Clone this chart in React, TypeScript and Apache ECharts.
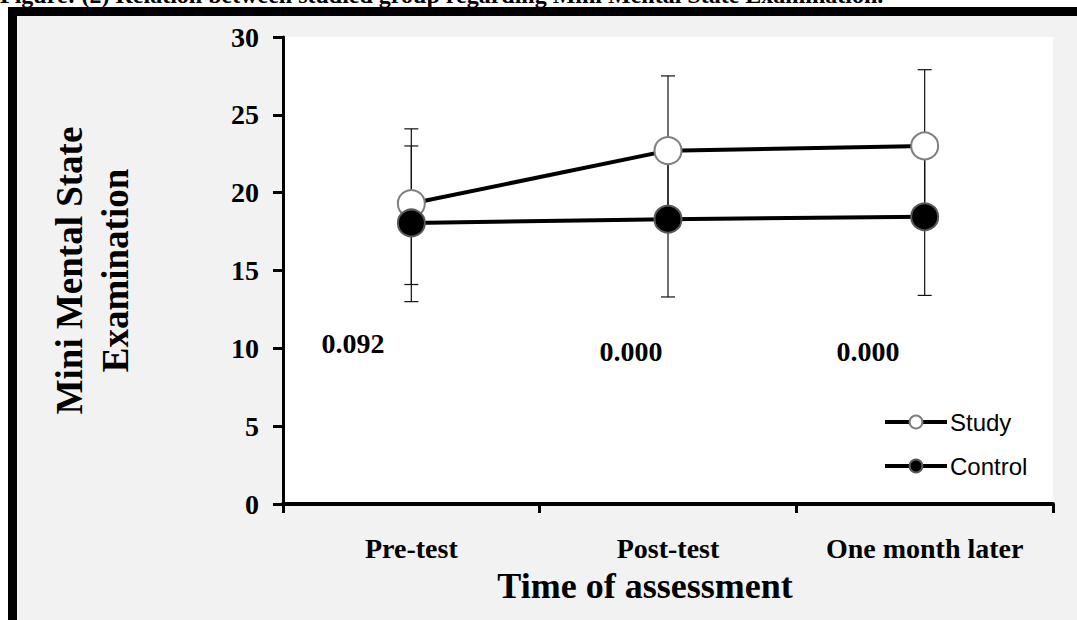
import React, { useEffect, useRef } from "react";
import * as echarts from "echarts";

const categories = ["Pre-test", "Post-test", "One month later"];
const studyMean = [19.3, 22.7, 23.0];
const studyLow = [14.1, 17.8, 18.1];
const studyHigh = [24.1, 27.5, 27.9];
const controlMean = [18.05, 18.3, 18.45];
const controlLow = [13.0, 13.3, 13.4];
const controlHigh = [23.0, 23.3, 23.5];
const pValues = ["0.092", "0.000", "0.000"];
const pValuePos = [
  [353, 343],
  [631, 351],
  [868, 351],
];
const yMin = 0;
const yMax = 30;
const yInterval = 5;

const SERIF = "'Liberation Serif', 'Times New Roman', serif";
const SANS = "'Liberation Sans', Arial, sans-serif";

function errorSeries(name: string, low: number[], high: number[]) {
  return {
    name: name + " SD",
    type: "custom",
    z: 1,
    silent: true,
    data: categories.map((_, i) => [i, low[i], high[i]]),
    renderItem: (params: any, api: any) => {
      const x = api.value(0);
      const lo = api.coord([x, api.value(1)]);
      const hi = api.coord([x, api.value(2)]);
      const cap = 7;
      const style = { stroke: "#111", lineWidth: 1.2 };
      return {
        type: "group",
        children: [
          { type: "line", shape: { x1: lo[0], y1: lo[1], x2: hi[0], y2: hi[1] }, style },
          { type: "line", shape: { x1: lo[0] - cap, y1: lo[1], x2: lo[0] + cap, y2: lo[1] }, style },
          { type: "line", shape: { x1: hi[0] - cap, y1: hi[1], x2: hi[0] + cap, y2: hi[1] }, style },
        ],
      };
    },
  };
}

export default function App() {
  const ref = useRef<HTMLDivElement>(null);
  useEffect(() => {
    if (!ref.current) return;
    const chart = echarts.init(ref.current, null, { renderer: "svg" });
    chart.setOption({
      animation: false,
      backgroundColor: "#ffffff",
      grid: {
        left: 283,
        top: 37,
        right: 24,
        bottom: 116,
        show: true,
        backgroundColor: "#ffffff",
        borderWidth: 0,
        z: 0,
      },
      graphic: [
        {
          type: "rect",
          z: -100,
          shape: { x: 12.5, y: 11.5, width: 1200, height: 800 },
          style: { fill: "#f2f2f2", stroke: "#000", lineWidth: 9 },
        },
        {
          type: "text",
          left: 0,
          top: -17,
          style: {
            text: "Figure: (2) Relation between studied group regarding Mini Mental State Examination.",
            font: `bold 24px ${SERIF}`,
            fill: "#000",
          },
        },
        ...pValues.map((t, i) => ({
          type: "text",
          x: pValuePos[i][0],
          y: pValuePos[i][1],
          style: {
            text: t,
            font: `bold 28px ${SERIF}`,
            fill: "#000",
            align: "center",
            verticalAlign: "middle",
          },
        })),
      ],
      legend: {
        orient: "vertical",
        left: 878,
        top: 405,
        itemWidth: 62,
        itemHeight: 16,
        itemGap: 20,
        data: ["Study", "Control"],
        lineStyle: { width: 4, color: "#000" },
        textStyle: { fontFamily: SANS, fontSize: 24, color: "#000", padding: [0, 0, 0, -2] },
      },
      xAxis: {
        type: "category",
        data: categories,
        boundaryGap: true,
        name: "Time of assessment",
        nameLocation: "middle",
        nameGap: 64,
        nameTextStyle: {
          fontFamily: SERIF,
          fontWeight: "bold",
          fontSize: 36,
          color: "#000",
          padding: [0, 46, 0, 0],
        },
        axisLine: { lineStyle: { color: "#000", width: 4 } },
        axisTick: { show: true, interval: 0, length: 9, inside: false, lineStyle: { color: "#000", width: 3 } },
        axisLabel: {
          interval: 0,
          margin: 30,
          fontFamily: SERIF,
          fontWeight: "bold",
          fontSize: 28,
          color: "#000",
        },
        splitLine: { show: false },
      },
      yAxis: {
        type: "value",
        min: yMin,
        max: yMax,
        interval: yInterval,
        name: "Mini Mental State\nExamination",
        nameLocation: "middle",
        nameRotate: 90,
        nameGap: 145,
        nameTextStyle: {
          fontFamily: SERIF,
          fontWeight: "bold",
          fontSize: 37,
          lineHeight: 46,
          color: "#000",
        },
        axisLine: { show: true, lineStyle: { color: "#000", width: 3 } },
        axisTick: { show: true, length: 10, lineStyle: { color: "#000", width: 3 } },
        axisLabel: {
          margin: 24,
          fontFamily: SERIF,
          fontWeight: "bold",
          fontSize: 28,
          color: "#000",
        },
        splitLine: { show: false },
      },
      series: [
        errorSeries("Study", studyLow, studyHigh),
        errorSeries("Control", controlLow, controlHigh),
        {
          name: "Study",
          type: "line",
          z: 3,
          data: studyMean,
          symbol: "circle",
          symbolSize: 27,
          lineStyle: { color: "#000", width: 4 },
          itemStyle: { color: "#ffffff", borderColor: "#7f7f7f", borderWidth: 2 },
        },
        {
          name: "Control",
          type: "line",
          z: 4,
          data: controlMean,
          symbol: "circle",
          symbolSize: 27,
          lineStyle: { color: "#000", width: 4 },
          itemStyle: { color: "#000000", borderColor: "#595959", borderWidth: 2 },
        },
      ],
    });
    return () => chart.dispose();
  }, []);
  return (
    <div
      ref={ref}
      style={{ position: "absolute", left: 0, top: 0, width: 1077, height: 620 }}
    />
  );
}
